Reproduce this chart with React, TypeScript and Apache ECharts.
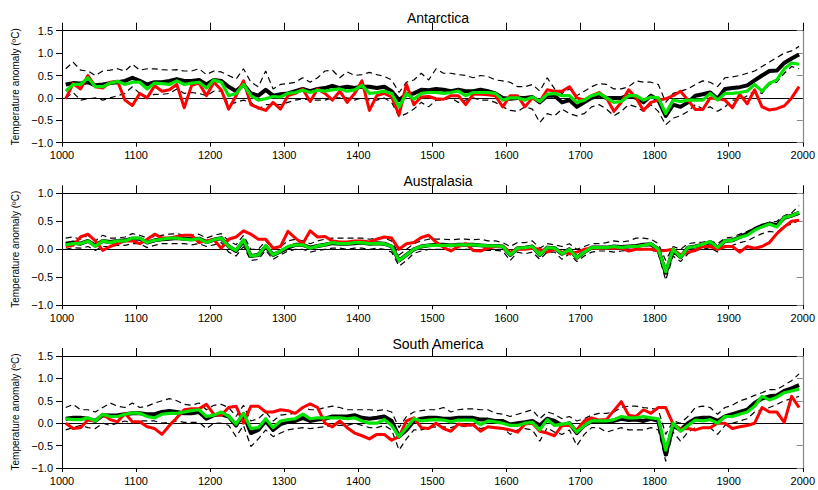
import React, { useEffect, useRef } from "react";
import * as echarts from "echarts";

const YEARS = [
  1005, 1015, 1025, 1035, 1045, 1055, 1065, 1075, 1085, 1095,
  1105, 1115, 1125, 1135, 1145, 1155, 1165, 1175, 1185, 1195,
  1205, 1215, 1225, 1235, 1245, 1255, 1265, 1275, 1285, 1295,
  1305, 1315, 1325, 1335, 1345, 1355, 1365, 1375, 1385, 1395,
  1405, 1415, 1425, 1435, 1445, 1455, 1465, 1475, 1485, 1495,
  1505, 1515, 1525, 1535, 1545, 1555, 1565, 1575, 1585, 1595,
  1605, 1615, 1625, 1635, 1645, 1655, 1665, 1675, 1685, 1695,
  1705, 1715, 1725, 1735, 1745, 1755, 1765, 1775, 1785, 1795,
  1805, 1815, 1825, 1835, 1845, 1855, 1865, 1875, 1885, 1895,
  1905, 1915, 1925, 1935, 1945, 1955, 1965, 1975, 1985, 1995,
];

const REGIONS = ["Antarctica", "Australasia", "South America"];
const Y_RANGES = [[-1.0, 1.5], [-1.0, 1.0], [-1.0, 1.5]];

// ---------- Antarctica ----------
const antMean = [
  0.30, 0.33, 0.32, 0.35, 0.28, 0.30, 0.33, 0.35, 0.38, 0.45,
  0.38, 0.30, 0.35, 0.35, 0.38, 0.42, 0.38, 0.38, 0.40, 0.30,
  0.40, 0.38, 0.25, 0.15, 0.30, 0.10, 0.05, 0.18, 0.05, 0.08,
  0.10, 0.15, 0.20, 0.15, 0.20, 0.22, 0.27, 0.22, 0.25, 0.22,
  0.25, 0.25, 0.22, 0.25, 0.15, -0.05, 0.08, 0.10, 0.18, 0.17,
  0.20, 0.18, 0.15, 0.18, 0.15, 0.15, 0.18, 0.15, 0.10, 0.00,
  -0.02, 0.00, 0.00, 0.02, -0.10, 0.05, 0.05, -0.10, -0.05, -0.20,
  -0.10, 0.00, 0.05, 0.00, 0.00, 0.00, 0.05, 0.00, -0.10, 0.05,
  -0.05, -0.40, -0.15, -0.20, -0.10, 0.05, 0.08, 0.12, -0.02, 0.20,
  0.22, 0.24, 0.28, 0.39, 0.50, 0.60, 0.61, 0.78, 0.88, 0.97,
];
const antGreen = [
  0.15, 0.30, 0.30, 0.45, 0.25, 0.25, 0.33, 0.37, 0.30, 0.35,
  0.35, 0.20, 0.33, 0.32, 0.30, 0.38, 0.30, 0.33, 0.35, 0.22,
  0.40, 0.35, 0.05, 0.10, 0.30, 0.05, -0.05, -0.02, 0.03, 0.02,
  0.10, 0.12, 0.17, 0.12, 0.17, 0.15, 0.18, 0.20, 0.15, 0.18,
  0.28, 0.10, 0.12, 0.15, 0.10, -0.20, 0.10, -0.03, 0.10, 0.12,
  0.12, 0.10, 0.12, 0.15, 0.05, 0.12, 0.12, 0.12, 0.10, -0.05,
  0.00, 0.00, -0.05, 0.02, -0.08, 0.08, 0.10, 0.05, 0.05, -0.10,
  -0.05, 0.05, 0.10, 0.00, -0.10, -0.08, 0.05, 0.05, -0.05, 0.02,
  0.00, -0.35, -0.05, -0.08, -0.05, -0.05, -0.05, 0.10, -0.05, 0.10,
  0.10, 0.12, 0.15, 0.30, 0.15, 0.33, 0.40, 0.65, 0.78, 0.75,
];
const antRed = [
  -0.02, 0.32, 0.20, 0.50, 0.25, 0.22, 0.35, 0.37, -0.05, -0.17,
  0.10, 0.00, 0.27, 0.15, 0.18, 0.30, -0.22, 0.28, 0.33, 0.05,
  0.35, 0.18, -0.25, 0.05, 0.38, -0.15, -0.22, -0.28, -0.10, -0.25,
  0.05, 0.10, 0.20, -0.08, 0.20, 0.10, -0.05, 0.15, -0.10, 0.10,
  0.38, -0.28, 0.05, 0.10, 0.02, -0.38, 0.30, -0.15, 0.02, 0.03,
  -0.02, -0.03, 0.05, 0.05, -0.15, 0.08, 0.08, 0.07, 0.05, -0.20,
  0.05, 0.05, -0.20, 0.00, -0.08, 0.18, 0.15, 0.15, 0.25, 0.00,
  -0.05, 0.05, 0.12, 0.00, -0.30, -0.10, 0.18, 0.00, -0.28, -0.10,
  -0.05, -0.02, 0.05, 0.15, -0.05, -0.26, -0.26, 0.00, -0.02, -0.05,
  -0.22, 0.08, -0.13, 0.18, -0.20, -0.27, -0.24, -0.18, 0.00, 0.25,
];
const antUpper = [
  0.65, 0.80, 0.62, 0.60, 0.50, 0.60, 0.62, 0.65, 0.60, 0.75,
  0.62, 0.65, 0.65, 0.63, 0.62, 0.63, 0.60, 0.60, 0.65, 0.52,
  0.60, 0.58, 0.50, 0.42, 0.65, 0.35, 0.25, 0.60, 0.20, 0.30,
  0.32, 0.35, 0.45, 0.35, 0.45, 0.60, 0.62, 0.45, 0.58, 0.50,
  0.52, 0.57, 0.52, 0.48, 0.40, 0.12, 0.35, 0.40, 0.55, 0.40,
  0.65, 0.55, 0.55, 0.52, 0.50, 0.45, 0.50, 0.48, 0.40, 0.38,
  0.35, 0.25, 0.25, 0.30, 0.15, 0.45, 0.20, 0.10, 0.20, 0.05,
  0.15, 0.25, 0.32, 0.30, 0.20, 0.20, 0.25, 0.38, 0.35, 0.35,
  0.30, -0.10, 0.10, 0.15, 0.20, 0.30, 0.38, 0.35, 0.25, 0.45,
  0.47, 0.50, 0.55, 0.60, 0.70, 0.80, 0.90, 1.00, 1.05, 1.15,
];
const antLower = [
  0.00, 0.12, -0.05, -0.02, 0.00, -0.05, 0.00, 0.05, 0.10, 0.25,
  0.10, 0.02, 0.08, 0.08, 0.10, 0.20, 0.10, 0.12, 0.10, 0.05,
  0.15, 0.15, -0.15, -0.10, -0.05, -0.10, -0.25, -0.15, -0.15, -0.15,
  -0.10, -0.05, -0.02, -0.05, -0.05, -0.05, 0.00, 0.00, 0.00, -0.05,
  0.00, -0.05, -0.05, 0.00, -0.10, -0.42, -0.35, -0.25, -0.10, -0.20,
  -0.05, -0.05, 0.00, -0.10, -0.05, 0.00, -0.05, -0.05, -0.10, -0.20,
  -0.28, -0.30, -0.20, -0.25, -0.55, -0.35, -0.40, -0.25, -0.35, -0.40,
  -0.35, -0.20, -0.15, -0.25, -0.40, -0.30, -0.15, -0.20, -0.30, -0.15,
  -0.30, -0.60, -0.45, -0.40, -0.30, -0.15, -0.25, -0.20, -0.30, -0.20,
  -0.05, -0.05, 0.05, 0.15, 0.10, 0.30, 0.35, 0.55, 0.70, 0.65,
];

// ---------- Australasia ----------
const ausMean = [
  0.10, 0.12, 0.10, 0.15, 0.07, 0.15, 0.13, 0.15, 0.16, 0.19,
  0.19, 0.12, 0.16, 0.18, 0.19, 0.20, 0.19, 0.18, 0.19, 0.13,
  0.17, 0.20, 0.05, -0.03, 0.15, -0.12, -0.10, 0.05, -0.10, -0.04,
  0.03, 0.08, 0.08, 0.03, 0.06, 0.08, 0.11, 0.10, 0.10, 0.11,
  0.12, 0.10, 0.11, 0.10, 0.05, -0.20, -0.10, 0.00, 0.05, 0.07,
  0.08, 0.08, 0.07, 0.08, 0.08, 0.08, 0.07, 0.06, 0.06, 0.05,
  -0.10, 0.02, 0.03, 0.05, -0.10, 0.03, 0.02, -0.08, 0.00, -0.15,
  -0.05, 0.03, 0.03, 0.03, 0.05, 0.04, 0.05, 0.06, 0.08, 0.09,
  0.00, -0.42, -0.02, -0.14, 0.03, 0.05, 0.08, 0.13, 0.03, 0.15,
  0.16, 0.22, 0.28, 0.36, 0.42, 0.46, 0.43, 0.56, 0.60, 0.65,
];
const ausGreen = [
  0.08, 0.10, 0.10, 0.15, 0.05, 0.15, 0.12, 0.15, 0.15, 0.20,
  0.20, 0.12, 0.16, 0.18, 0.20, 0.20, 0.18, 0.17, 0.19, 0.12,
  0.17, 0.20, 0.05, -0.02, 0.17, -0.12, -0.10, 0.07, -0.10, -0.03,
  0.05, 0.08, 0.08, 0.02, 0.06, 0.08, 0.12, 0.10, 0.10, 0.12,
  0.12, 0.10, 0.10, 0.10, 0.05, -0.20, -0.10, 0.00, 0.05, 0.07,
  0.07, 0.07, 0.07, 0.08, 0.08, 0.08, 0.07, 0.06, 0.06, 0.05,
  -0.10, 0.02, 0.03, 0.05, -0.10, 0.03, 0.02, -0.08, 0.00, -0.15,
  -0.05, 0.03, 0.03, 0.03, 0.05, 0.03, 0.05, 0.05, 0.07, 0.10,
  0.00, -0.40, 0.00, -0.14, 0.03, 0.05, 0.09, 0.14, 0.03, 0.15,
  0.16, 0.21, 0.25, 0.34, 0.40, 0.45, 0.40, 0.57, 0.60, 0.66,
];
const ausRed = [
  0.05, 0.07, 0.22, 0.27, 0.15, -0.02, 0.05, 0.10, 0.15, 0.15,
  0.10, 0.18, 0.27, 0.20, 0.20, 0.23, 0.25, 0.25, 0.12, 0.15,
  0.17, 0.02, 0.18, 0.22, 0.33, 0.27, 0.18, 0.18, 0.02, 0.05,
  0.32, 0.20, 0.10, 0.33, 0.22, 0.23, 0.15, 0.13, 0.13, 0.15,
  0.15, 0.13, 0.18, 0.22, 0.20, 0.00, 0.10, 0.12, 0.21, 0.25,
  0.13, 0.03, -0.03, 0.05, 0.10, -0.02, -0.03, 0.02, 0.05, 0.05,
  -0.05, 0.00, 0.00, 0.02, 0.00, -0.05, 0.00, -0.05, -0.08, -0.05,
  0.00, 0.02, 0.02, 0.02, 0.02, 0.02, -0.03, 0.00, 0.00, 0.00,
  -0.03, -0.02, 0.00, -0.10, -0.05, -0.02, 0.05, 0.05, 0.00, 0.05,
  0.05, -0.05, 0.05, 0.02, 0.05, 0.12, 0.28, 0.40, 0.50, 0.52,
];
const ausUpper = [
  0.20, 0.22, 0.18, 0.25, 0.15, 0.25, 0.20, 0.20, 0.22, 0.28,
  0.25, 0.20, 0.23, 0.25, 0.27, 0.28, 0.25, 0.25, 0.27, 0.20,
  0.25, 0.28, 0.15, 0.08, 0.25, 0.00, 0.00, 0.15, 0.00, 0.05,
  0.15, 0.18, 0.15, 0.10, 0.15, 0.18, 0.20, 0.20, 0.20, 0.20,
  0.20, 0.18, 0.20, 0.20, 0.15, -0.10, 0.00, 0.10, 0.15, 0.18,
  0.18, 0.18, 0.17, 0.18, 0.18, 0.17, 0.18, 0.15, 0.15, 0.12,
  0.05, 0.12, 0.12, 0.15, 0.02, 0.10, 0.08, 0.05, 0.10, 0.00,
  0.05, 0.10, 0.10, 0.12, 0.15, 0.13, 0.15, 0.20, 0.20, 0.18,
  0.10, -0.20, 0.05, 0.00, 0.10, 0.12, 0.13, 0.15, 0.10, 0.20,
  0.22, 0.27, 0.32, 0.38, 0.42, 0.48, 0.50, 0.60, 0.65, 0.78,
];
const ausLower = [
  0.00, 0.03, 0.02, 0.05, -0.02, 0.05, 0.05, 0.07, 0.07, 0.10,
  0.10, 0.03, 0.07, 0.10, 0.10, 0.10, 0.10, 0.08, 0.10, 0.05,
  0.08, 0.12, -0.05, -0.12, 0.05, -0.20, -0.18, -0.02, -0.18, -0.10,
  -0.03, 0.00, 0.00, -0.05, -0.02, 0.00, 0.02, 0.02, 0.00, 0.02,
  0.02, 0.00, 0.02, 0.00, -0.05, -0.30, -0.20, -0.07, -0.03, 0.00,
  0.00, 0.00, 0.00, 0.00, 0.00, 0.00, -0.02, -0.02, -0.02, -0.03,
  -0.20, -0.05, -0.08, -0.05, -0.18, -0.05, -0.05, -0.18, -0.08, -0.22,
  -0.12, -0.05, -0.03, -0.03, -0.05, -0.03, -0.02, -0.02, 0.00, 0.00,
  -0.08, -0.55, -0.12, -0.22, -0.08, -0.02, 0.00, 0.03, -0.05, 0.05,
  0.07, 0.12, 0.15, 0.22, 0.28, 0.32, 0.30, 0.42, 0.45, 0.52,
];

// ---------- South America ----------
const saMean = [
  0.10, 0.12, 0.12, 0.10, 0.05, 0.18, 0.17, 0.18, 0.20, 0.22,
  0.22, 0.20, 0.20, 0.25, 0.27, 0.25, 0.22, 0.22, 0.25, 0.10,
  0.18, 0.20, 0.15, -0.05, 0.20, -0.22, -0.15, 0.05, -0.15, -0.02,
  0.03, 0.05, 0.12, 0.05, 0.08, 0.10, 0.15, 0.15, 0.15, 0.18,
  0.12, 0.10, 0.12, 0.15, 0.05, -0.30, -0.15, 0.05, 0.10, 0.12,
  0.12, 0.10, 0.10, 0.12, 0.12, 0.12, 0.08, 0.08, 0.05, 0.05,
  -0.03, 0.00, 0.02, 0.05, -0.05, 0.10, 0.05, -0.05, 0.00, -0.22,
  -0.05, 0.05, 0.05, 0.05, 0.05, 0.10, 0.07, 0.08, 0.05, 0.10,
  0.05, -0.70, -0.05, -0.15, 0.00, 0.10, 0.12, 0.12, 0.05, 0.15,
  0.20, 0.25, 0.30, 0.45, 0.55, 0.60, 0.62, 0.72, 0.78, 0.85,
];
const saGreen = [
  0.10, 0.08, 0.08, 0.12, 0.05, 0.20, 0.15, 0.15, 0.20, 0.23,
  0.22, 0.15, 0.12, 0.20, 0.22, 0.22, 0.25, 0.28, 0.30, 0.15,
  0.18, 0.25, 0.15, -0.02, 0.22, -0.12, -0.10, 0.10, -0.10, 0.05,
  0.08, 0.10, 0.20, 0.10, 0.12, 0.12, 0.12, 0.12, 0.10, 0.12,
  0.05, 0.00, 0.00, 0.08, -0.05, -0.30, -0.10, 0.10, 0.05, 0.07,
  0.08, 0.07, 0.03, 0.07, 0.07, 0.07, -0.03, 0.05, 0.03, 0.00,
  -0.05, -0.05, 0.00, 0.02, -0.15, 0.08, -0.05, -0.02, 0.00, -0.20,
  -0.05, 0.05, 0.05, 0.05, 0.08, 0.15, 0.12, 0.12, 0.15, 0.12,
  0.10, -0.60, 0.00, -0.18, -0.05, 0.07, 0.05, 0.08, 0.00, 0.15,
  0.15, 0.20, 0.25, 0.38, 0.60, 0.52, 0.58, 0.68, 0.72, 0.76,
];
const saRed = [
  0.00, -0.12, -0.10, 0.07, 0.05, 0.20, 0.08, 0.03, 0.22, 0.03,
  0.03, -0.08, -0.12, -0.25, -0.05, 0.12, 0.30, 0.32, 0.32, 0.42,
  0.20, 0.18, 0.35, 0.38, 0.00, 0.38, 0.38, 0.25, 0.25, 0.30,
  0.28, 0.22, 0.35, 0.43, 0.35, 0.00, -0.08, 0.05, -0.10, -0.22,
  -0.28, -0.35, -0.25, -0.25, -0.38, -0.30, 0.05, 0.12, -0.10, -0.12,
  0.00, -0.12, -0.18, -0.02, -0.05, -0.03, -0.18, -0.08, -0.10, -0.12,
  -0.15, -0.20, -0.02, 0.00, -0.18, -0.22, -0.28, -0.05, -0.05, -0.15,
  0.05, 0.12, 0.07, 0.08, 0.28, 0.48, 0.18, 0.15, 0.30, 0.22,
  0.35, 0.35, -0.02, -0.13, -0.12, -0.15, -0.10, -0.10, 0.00, 0.00,
  -0.12, -0.08, -0.05, 0.00, 0.35, 0.25, 0.25, 0.02, 0.60, 0.35,
];
const saUpper = [
  0.35, 0.42, 0.30, 0.30, 0.25, 0.35, 0.45, 0.38, 0.35, 0.45,
  0.35, 0.38, 0.45, 0.50, 0.55, 0.50, 0.42, 0.40, 0.45, 0.30,
  0.40, 0.42, 0.35, 0.15, 0.40, 0.05, 0.10, 0.25, 0.05, 0.18,
  0.20, 0.22, 0.35, 0.30, 0.30, 0.35, 0.38, 0.35, 0.30, 0.30,
  0.30, 0.30, 0.28, 0.30, 0.25, -0.10, 0.15, 0.25, 0.28, 0.30,
  0.30, 0.35, 0.25, 0.30, 0.32, 0.32, 0.30, 0.30, 0.22, 0.20,
  0.15, 0.20, 0.25, 0.30, 0.10, 0.25, 0.20, 0.10, 0.15, 0.05,
  0.10, 0.18, 0.22, 0.22, 0.25, 0.35, 0.38, 0.38, 0.35, 0.33,
  0.30, -0.25, 0.05, 0.00, 0.15, 0.35, 0.38, 0.35, 0.20, 0.35,
  0.40, 0.50, 0.55, 0.62, 0.68, 0.75, 0.75, 0.85, 0.95, 1.10,
];
const saLower = [
  -0.15, -0.10, -0.05, -0.10, -0.12, 0.00, -0.05, 0.00, 0.05, 0.00,
  0.05, 0.05, 0.05, 0.00, 0.02, 0.05, 0.02, 0.02, 0.02, -0.12,
  0.00, 0.00, -0.05, -0.30, -0.05, -0.52, -0.35, -0.15, -0.30, -0.22,
  -0.15, -0.12, -0.10, -0.12, -0.10, -0.08, -0.05, -0.05, -0.05, 0.00,
  -0.05, -0.10, -0.10, -0.05, -0.15, -0.60, -0.35, -0.15, -0.15, -0.10,
  -0.08, -0.08, -0.10, -0.05, -0.08, -0.05, -0.12, -0.08, -0.10, -0.10,
  -0.25, -0.15, -0.12, -0.15, -0.40, -0.10, -0.20, -0.25, -0.15, -0.50,
  -0.25, -0.10, -0.10, -0.20, -0.15, -0.10, -0.15, -0.15, -0.15, -0.10,
  -0.15, -0.85, -0.20, -0.40, -0.20, -0.10, -0.10, -0.10, -0.25, -0.05,
  0.00, 0.05, 0.10, 0.25, 0.30, 0.35, 0.42, 0.50, 0.55, 0.60,
];

const PANELS = [
  { upper: antUpper, lower: antLower, mean: antMean, red: antRed, green: antGreen },
  { upper: ausUpper, lower: ausLower, mean: ausMean, red: ausRed, green: ausGreen },
  { upper: saUpper, lower: saLower, mean: saMean, red: saRed, green: saGreen },
];

const FONT = "'Liberation Sans', Arial, Helvetica, sans-serif";
const GRID_TOPS = [30.7, 193.3, 356];
const TITLE_TOPS = [6, 169, 331.5];
const GRID_LEFT = 62;
const GRID_WIDTH = 742;
const GRID_HEIGHT = 112;

const pairs = (arr: number[]) => YEARS.map((y, i) => [y, arr[i]]);

export default function App() {
  const ref = useRef<HTMLDivElement>(null);

  useEffect(() => {
    if (!ref.current) return;
    const chart = echarts.init(ref.current, undefined, { renderer: "svg" });

    const grid: any[] = [];
    const xAxis: any[] = [];
    const yAxis: any[] = [];
    const series: any[] = [];
    const title: any[] = [];

    PANELS.forEach((p, i) => {
      grid.push({ left: GRID_LEFT, top: GRID_TOPS[i], width: GRID_WIDTH, height: GRID_HEIGHT });
      title.push({
        text: REGIONS[i],
        left: GRID_LEFT + GRID_WIDTH / 2,
        top: TITLE_TOPS[i],
        textAlign: "center",
        textStyle: { fontFamily: FONT, fontSize: 14, fontWeight: "normal", color: "#000" },
      });
      // bottom x axis
      xAxis.push({
        type: "value",
        gridIndex: i,
        min: 1000,
        max: 2000,
        interval: 100,
        position: "bottom",
        axisLine: { show: true, onZero: false, lineStyle: { color: "#000", width: 1 } },
        axisTick: { show: true, inside: false, length: 4, lineStyle: { color: "#000", width: 1 } },
        axisLabel: {
          show: true,
          fontFamily: FONT,
          fontSize: 11,
          color: "#000",
          margin: 7,
          formatter: (v: number) => String(Math.round(v)),
        },
        splitLine: { show: false },
      });
      // top x axis
      xAxis.push({
        type: "value",
        gridIndex: i,
        min: 1000,
        max: 2000,
        interval: 100,
        position: "top",
        axisLine: { show: true, onZero: false, lineStyle: { color: "#000", width: 1 } },
        axisTick: { show: true, inside: false, length: 8, lineStyle: { color: "#000", width: 1 } },
        axisLabel: { show: false },
        splitLine: { show: false },
      });
      const [ymin, ymax] = Y_RANGES[i];
      yAxis.push({
        type: "value",
        gridIndex: i,
        min: ymin,
        max: ymax,
        interval: 0.5,
        position: "left",
        name: "Temperature anomaly (ºC)",
        nameLocation: "middle",
        nameGap: 41,
        nameTextStyle: { fontFamily: FONT, fontSize: 10, color: "#000" },
        axisLine: { show: true, onZero: false, lineStyle: { color: "#000", width: 1 } },
        axisTick: { show: true, inside: false, length: 6, lineStyle: { color: "#000", width: 1 } },
        axisLabel: {
          show: true,
          fontFamily: FONT,
          fontSize: 11,
          color: "#000",
          margin: 9,
          formatter: (v: number) => v.toFixed(1).replace("-", "\u2212"),
        },
        splitLine: { show: false },
      });
      yAxis.push({
        type: "value",
        gridIndex: i,
        min: ymin,
        max: ymax,
        interval: 0.5,
        position: "right",
        axisLine: { show: true, onZero: false, lineStyle: { color: "#888", width: 1.2 } },
        axisTick: { show: true, inside: true, length: 6, lineStyle: { color: "#888", width: 1 } },
        axisLabel: { show: false },
        splitLine: { show: false },
      });

      const xi = i * 2;
      const yi = i * 2;
      const dashed = {
        type: "line",
        xAxisIndex: xi,
        yAxisIndex: yi,
        showSymbol: false,
        symbol: "none",
        silent: true,
        lineStyle: { color: "#000", width: 1.2, type: [6, 4] },
        z: 2,
      };
      series.push({
        ...dashed,
        data: pairs(p.upper),
        markLine: {
          silent: true,
          symbol: ["none", "none"],
          label: { show: false },
          lineStyle: { color: "#000", width: 1, type: "solid" },
          data: [{ yAxis: 0 }],
          z: 1,
        },
      });
      series.push({ ...dashed, data: pairs(p.lower) });
      series.push({
        type: "line",
        xAxisIndex: xi,
        yAxisIndex: yi,
        showSymbol: false,
        symbol: "none",
        data: pairs(p.mean),
        lineStyle: { color: "#000", width: 4, join: "round" },
        z: 3,
      });
      series.push({
        type: "line",
        xAxisIndex: xi,
        yAxisIndex: yi,
        showSymbol: false,
        symbol: "none",
        data: pairs(p.red),
        lineStyle: { color: "#ff0000", width: 3, join: "round" },
        z: 4,
      });
      series.push({
        type: "line",
        xAxisIndex: xi,
        yAxisIndex: yi,
        showSymbol: false,
        symbol: "none",
        data: pairs(p.green),
        lineStyle: { color: "#00e400", width: 3.2, join: "round" },
        z: 5,
      });
    });

    chart.setOption({
      animation: false,
      backgroundColor: "#fff",
      title,
      grid,
      xAxis,
      yAxis,
      series,
    });

    return () => chart.dispose();
  }, []);

  return (
    <div
      ref={ref}
      style={{ position: "fixed", left: 0, top: 0, width: 818, height: 490, background: "#fff" }}
    />
  );
}
